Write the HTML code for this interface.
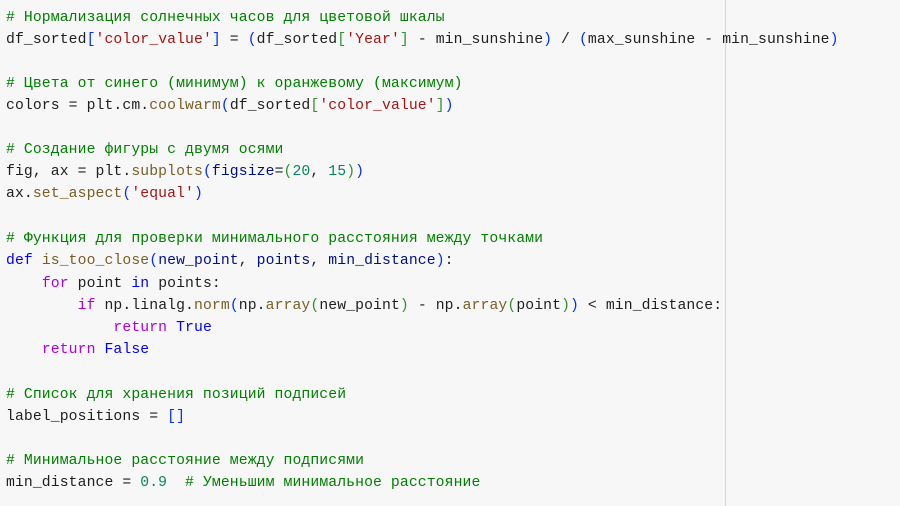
<!DOCTYPE html>
<html><head><meta charset="utf-8"><style>
html,body{margin:0;padding:0}
body{width:900px;height:506px;background:#f7f7f7;position:relative;overflow:hidden}
.vl{position:absolute;left:725px;top:0;width:1px;height:506px;background:#d6d6d6}
.l{position:absolute;left:6px;white-space:pre;font-family:"Liberation Mono","DejaVu Sans Mono",monospace;font-size:14.75px;letter-spacing:0.1px;line-height:22px;color:#1f1f1f}
.c{color:#008000}.s{color:#a31515}.k{color:#0000ff}.f{color:#795e26}.p{color:#001080}.n{color:#098658}.m{color:#af00db}.b{color:#0431fa}.g{color:#319331}.o{color:#7b3814}
</style></head><body>
<div class="vl"></div>
<div class="l" style="top:7px"><span class="c"># Нормализация солнечных часов для цветовой шкалы</span></div>
<div class="l" style="top:29px">df_sorted<span class="b">[</span><span class="s">'color_value'</span><span class="b">]</span> = <span class="b">(</span>df_sorted<span class="g">[</span><span class="s">'Year'</span><span class="g">]</span> - min_sunshine<span class="b">)</span> / <span class="b">(</span>max_sunshine - min_sunshine<span class="b">)</span></div>
<div class="l" style="top:73px"><span class="c"># Цвета от синего (минимум) к оранжевому (максимум)</span></div>
<div class="l" style="top:95px">colors = plt.cm.<span class="f">coolwarm</span><span class="b">(</span>df_sorted<span class="g">[</span><span class="s">'color_value'</span><span class="g">]</span><span class="b">)</span></div>
<div class="l" style="top:139px"><span class="c"># Создание фигуры с двумя осями</span></div>
<div class="l" style="top:161px">fig, ax = plt.<span class="f">subplots</span><span class="b">(</span><span class="p">figsize</span>=<span class="g">(</span><span class="n">20</span>, <span class="n">15</span><span class="g">)</span><span class="b">)</span></div>
<div class="l" style="top:183px">ax.<span class="f">set_aspect</span><span class="b">(</span><span class="s">'equal'</span><span class="b">)</span></div>
<div class="l" style="top:228px"><span class="c"># Функция для проверки минимального расстояния между точками</span></div>
<div class="l" style="top:250px"><span class="k">def</span> <span class="f">is_too_close</span><span class="b">(</span><span class="p">new_point</span>, <span class="p">points</span>, <span class="p">min_distance</span><span class="b">)</span>:</div>
<div class="l" style="top:273px">    <span class="m">for</span> point <span class="k">in</span> points:</div>
<div class="l" style="top:295px">        <span class="m">if</span> np.linalg.<span class="f">norm</span><span class="b">(</span>np.<span class="f">array</span><span class="g">(</span>new_point<span class="g">)</span> - np.<span class="f">array</span><span class="g">(</span>point<span class="g">)</span><span class="b">)</span> &lt; min_distance:</div>
<div class="l" style="top:317px">            <span class="m">return</span> <span class="k">True</span></div>
<div class="l" style="top:339px">    <span class="m">return</span> <span class="k">False</span></div>
<div class="l" style="top:384px"><span class="c"># Список для хранения позиций подписей</span></div>
<div class="l" style="top:406px">label_positions = <span class="b">[]</span></div>
<div class="l" style="top:450px"><span class="c"># Минимальное расстояние между подписями</span></div>
<div class="l" style="top:472px">min_distance = <span class="n">0.9</span>  <span class="c"># Уменьшим минимальное расстояние</span></div>
</body></html>
